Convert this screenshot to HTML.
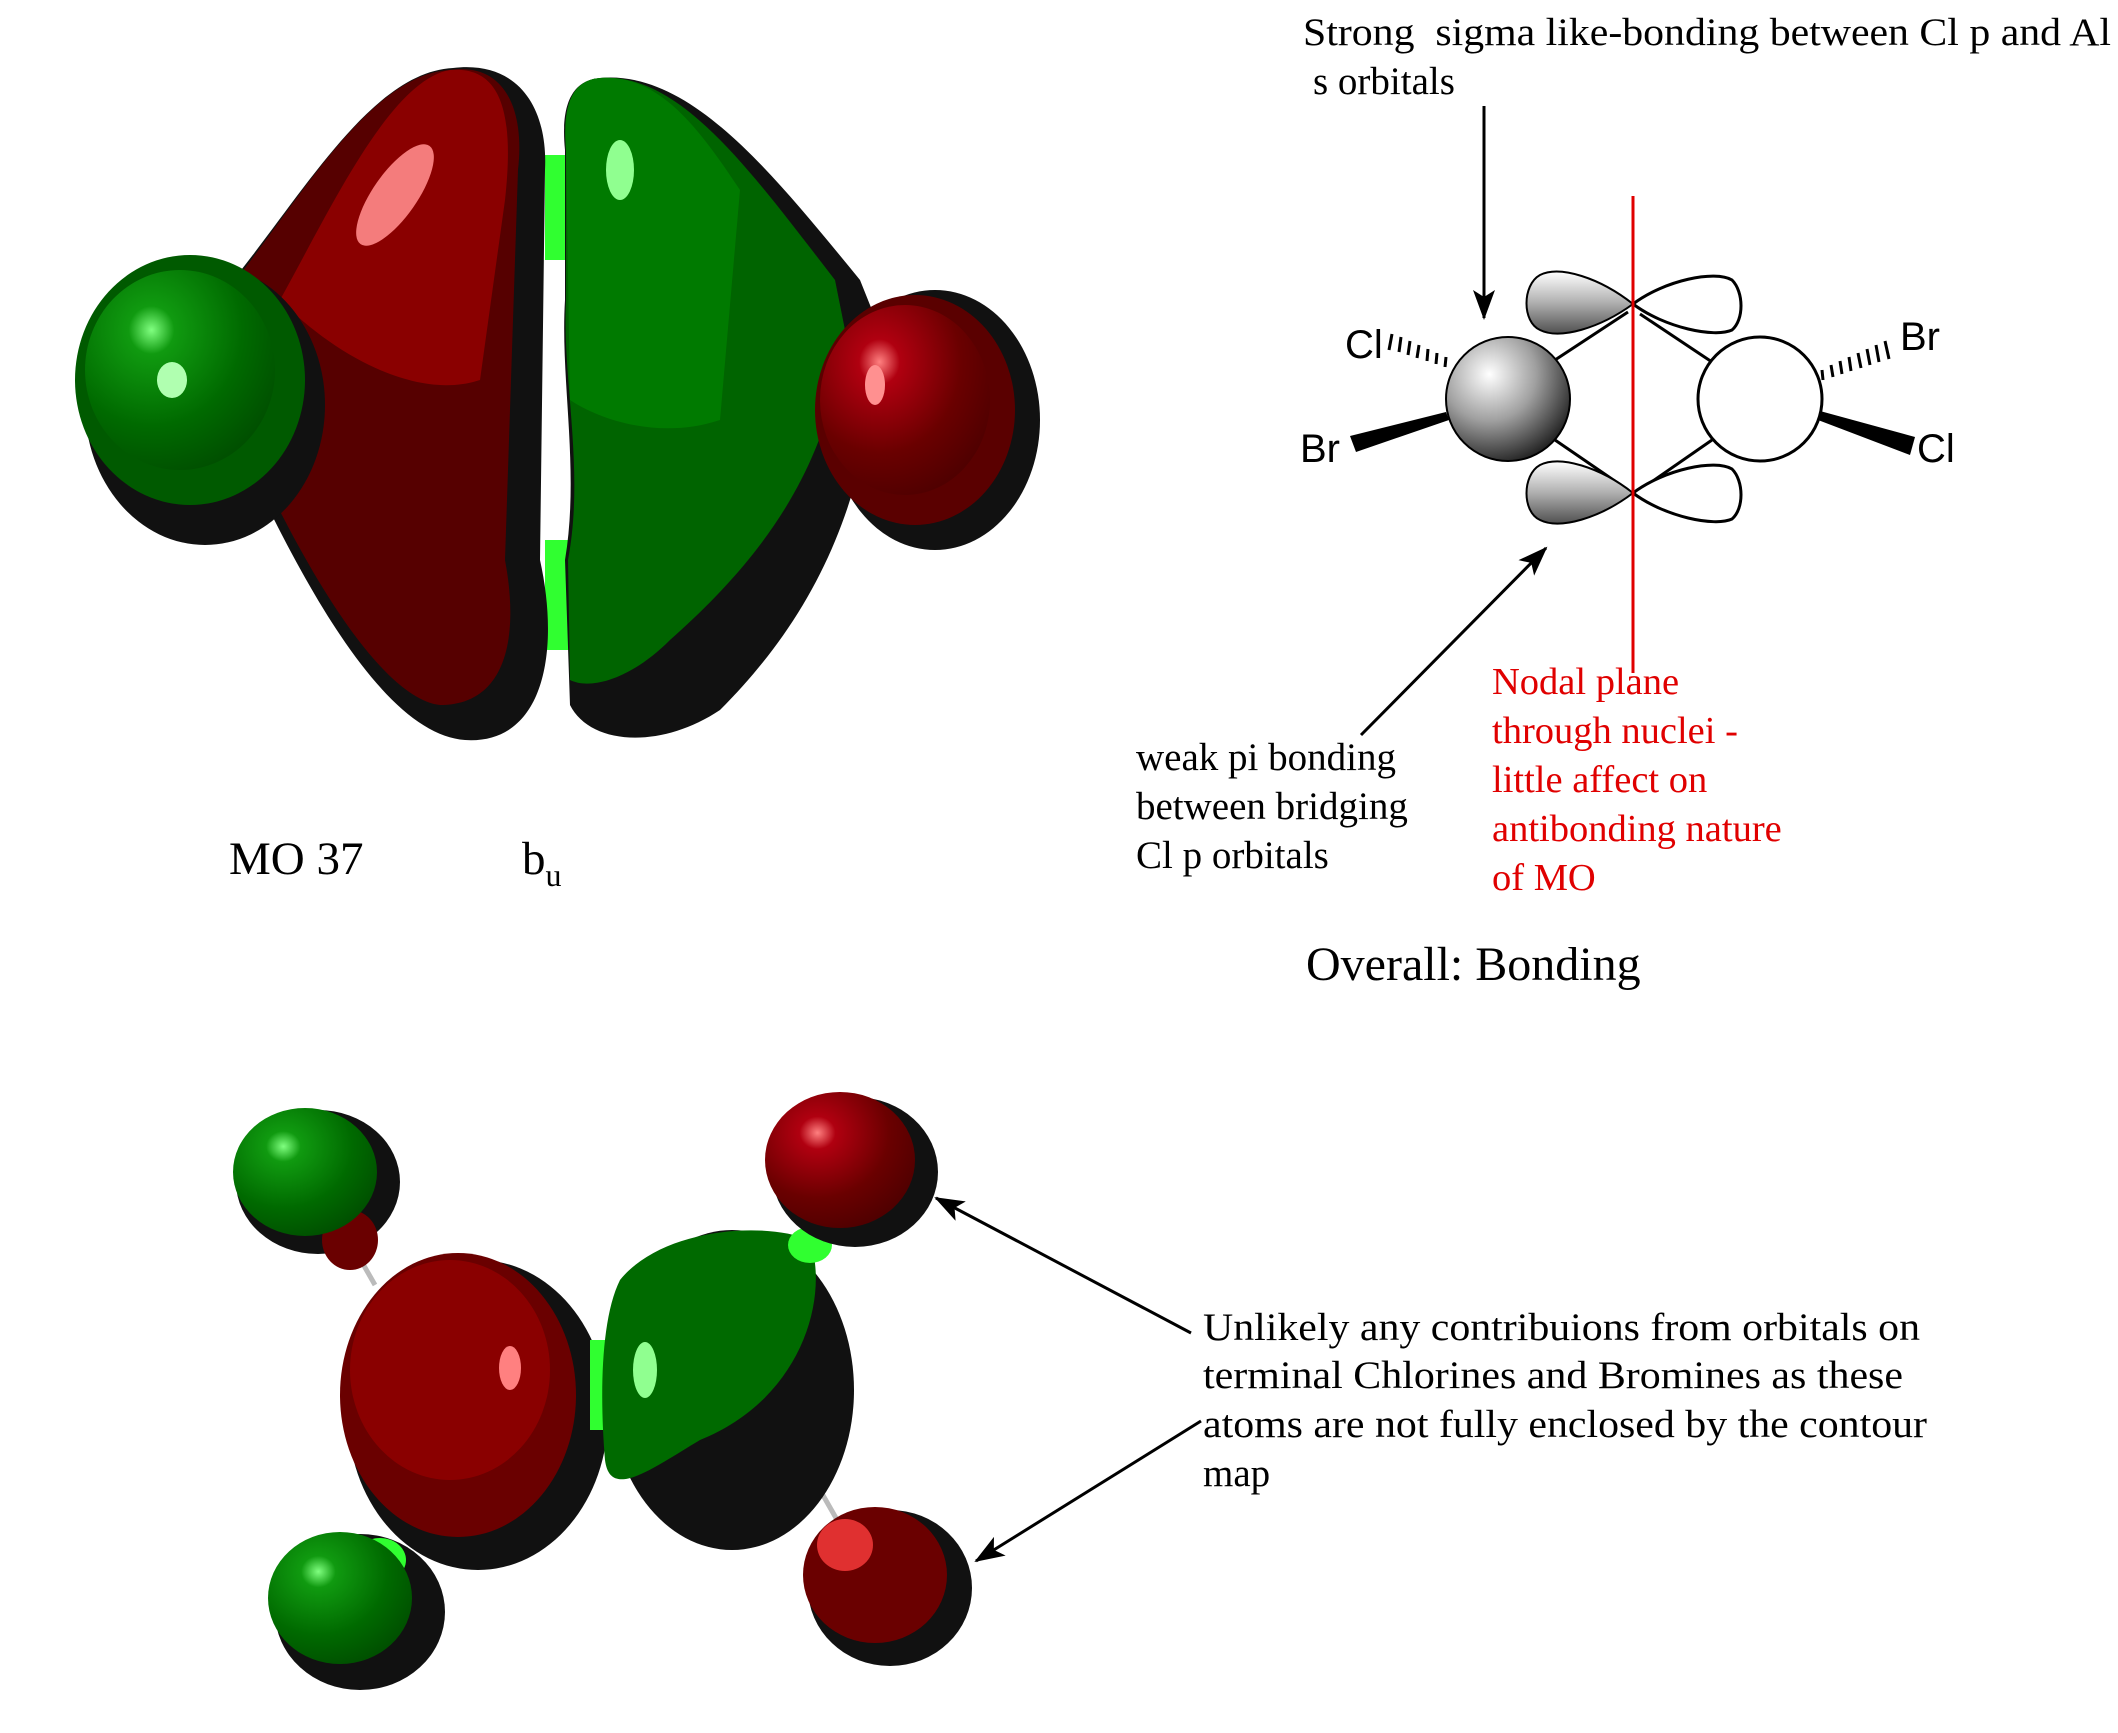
<!DOCTYPE html>
<html><head><meta charset="utf-8">
<style>
html,body{margin:0;padding:0;background:#fff;}
svg{display:block;}
.t{font-family:"Liberation Serif",serif;font-size:39px;fill:#000;}
.r{font-family:"Liberation Serif",serif;font-size:38.5px;fill:#e00000;}
.s{font-family:"Liberation Sans",sans-serif;font-size:40px;fill:#000;}
</style></head>
<body>
<svg width="2118" height="1733" viewBox="0 0 2118 1733" xmlns="http://www.w3.org/2000/svg">
<defs>
<radialGradient id="rg" cx="0.35" cy="0.3" r="0.8">
<stop offset="0" stop-color="#ff8080"/><stop offset="0.15" stop-color="#b00010"/><stop offset="0.6" stop-color="#6a0000"/><stop offset="1" stop-color="#4a0000"/></radialGradient>
<radialGradient id="gg" cx="0.35" cy="0.3" r="0.8">
<stop offset="0" stop-color="#80ff80"/><stop offset="0.15" stop-color="#109a10"/><stop offset="0.6" stop-color="#006a00"/><stop offset="1" stop-color="#004a00"/></radialGradient>
<radialGradient id="sph" cx="0.35" cy="0.3" r="0.75">
<stop offset="0" stop-color="#ffffff"/><stop offset="0.5" stop-color="#a0a0a0"/><stop offset="1" stop-color="#202020"/></radialGradient>
<linearGradient id="lobe" x1="0" y1="0" x2="0" y2="1">
<stop offset="0" stop-color="#ffffff"/><stop offset="0.5" stop-color="#b0b0b0"/><stop offset="1" stop-color="#505050"/></linearGradient>
<marker id="ah" markerWidth="30" markerHeight="22" refX="28" refY="11" orient="auto" markerUnits="userSpaceOnUse" viewBox="0 0 30 22">
<path d="M0,0 L30,11 L0,22 L7,11 Z" fill="#000"/></marker>
</defs>

<!-- ===== Top MO ===== -->
<rect x="545" y="155" width="25" height="105" fill="#30ff30"/>
<rect x="545" y="540" width="25" height="110" fill="#30ff30"/>
<path d="M453,68 C520,60 548,110 545,170 L540,560 C560,650 545,745 465,740 C400,735 330,640 250,470 L225,290 C300,200 370,72 453,68 Z" fill="#111"/>
<path d="M450,70 C505,62 525,110 518,170 L505,560 C520,640 505,705 440,705 C395,700 330,620 255,460 L228,290 C300,200 370,74 450,70 Z" fill="#560000"/>
<path d="M450,70 C500,66 515,110 505,200 L480,380 C420,400 340,360 280,300 C330,210 390,80 450,70 Z" fill="#8a0000"/>
<ellipse cx="395" cy="195" rx="22" ry="60" transform="rotate(35 395 195)" fill="#ff8a8a" opacity="0.9"/>
<path d="M600,78 C690,70 770,170 860,280 L880,330 C870,480 830,600 720,710 C660,750 590,745 570,705 L565,560 C580,470 560,380 565,300 L565,150 C560,100 575,80 600,78 Z" fill="#111"/>
<path d="M600,78 C680,72 750,170 835,280 L845,330 C830,470 760,560 670,640 C630,680 590,690 570,680 L568,560 C585,470 562,380 566,300 L566,150 C562,100 575,80 600,78 Z" fill="#006400"/>
<path d="M600,78 C660,74 700,130 740,190 L720,420 C660,440 600,420 570,400 L566,150 C562,100 575,80 600,78 Z" fill="#007a00"/>
<ellipse cx="620" cy="170" rx="14" ry="30" fill="#90ff90"/>
<ellipse cx="205" cy="405" rx="120" ry="140" fill="#111"/>
<ellipse cx="190" cy="380" rx="115" ry="125" fill="#005a00"/>
<ellipse cx="180" cy="370" rx="95" ry="100" fill="url(#gg)"/>
<ellipse cx="172" cy="380" rx="15" ry="18" fill="#b0ffb0"/>
<ellipse cx="935" cy="420" rx="105" ry="130" fill="#111"/>
<ellipse cx="915" cy="410" rx="100" ry="115" fill="#5a0000"/>
<ellipse cx="905" cy="400" rx="85" ry="95" fill="url(#rg)"/>
<ellipse cx="875" cy="385" rx="10" ry="20" fill="#ff9090"/>

<text class="t" x="229" y="874" style="font-size:47px">MO 37</text>
<text class="t" x="522" y="874" style="font-size:47px">b<tspan dy="12" style="font-size:32px">u</tspan></text>

<!-- ===== Top right scheme ===== -->
<text class="t" x="1303" y="45" textLength="808" lengthAdjust="spacingAndGlyphs">Strong&#160; sigma like-bonding between Cl p and Al</text>
<text class="t" x="1313" y="94">s orbitals</text>
<line x1="1484" y1="106" x2="1484" y2="318" stroke="#000" stroke-width="3" marker-end="url(#ah)"/>

<line x1="1555" y1="360" x2="1628" y2="312" stroke="#000" stroke-width="3"/>
<line x1="1555" y1="440" x2="1628" y2="490" stroke="#000" stroke-width="3"/>
<line x1="1640" y1="314" x2="1712" y2="362" stroke="#000" stroke-width="3"/>
<line x1="1640" y1="490" x2="1712" y2="440" stroke="#000" stroke-width="3"/>
<path d="M1633,304 C1600,278 1560,265 1540,275 C1522,285 1522,322 1540,330 C1560,340 1600,328 1633,304 Z" fill="url(#lobe)" stroke="#000" stroke-width="2"/>
<path d="M1633,304 C1665,280 1715,270 1732,280 C1744,292 1744,320 1732,330 C1715,338 1665,328 1633,304 Z" fill="#fff" stroke="#000" stroke-width="3"/>
<path d="M1633,493 C1600,467 1560,455 1540,465 C1522,475 1522,512 1540,520 C1560,530 1600,518 1633,493 Z" fill="url(#lobe)" stroke="#000" stroke-width="2"/>
<path d="M1633,493 C1665,469 1715,459 1732,469 C1744,481 1744,509 1732,519 C1715,527 1665,517 1633,493 Z" fill="#fff" stroke="#000" stroke-width="3"/>
<circle cx="1508" cy="399" r="62" fill="url(#sph)" stroke="#000" stroke-width="2"/>
<circle cx="1760" cy="399" r="62" fill="#fff" stroke="#000" stroke-width="3"/>
<line x1="1633" y1="196" x2="1633" y2="673" stroke="#e00000" stroke-width="3"/>

<g stroke="#000" stroke-width="3">
<line x1="1392" y1="334" x2="1389" y2="350"/>
<line x1="1401" y1="337" x2="1399" y2="352"/>
<line x1="1410" y1="341" x2="1408" y2="355"/>
<line x1="1419" y1="345" x2="1417" y2="358"/>
<line x1="1428" y1="349" x2="1427" y2="361"/>
<line x1="1437" y1="353" x2="1436" y2="364"/>
<line x1="1446" y1="357" x2="1445" y2="367"/>
</g>
<path d="M1446,412 L1449,420 L1356,452 L1350,436 Z" fill="#000"/>
<text class="s" x="1345" y="358">Cl</text>
<text class="s" x="1300" y="462">Br</text>
<g stroke="#000" stroke-width="3">
<line x1="1822" y1="370" x2="1823" y2="380"/>
<line x1="1831" y1="365" x2="1833" y2="377"/>
<line x1="1840" y1="361" x2="1842" y2="374"/>
<line x1="1849" y1="357" x2="1851" y2="371"/>
<line x1="1858" y1="353" x2="1861" y2="368"/>
<line x1="1867" y1="349" x2="1870" y2="365"/>
<line x1="1876" y1="345" x2="1879" y2="362"/>
<line x1="1885" y1="341" x2="1889" y2="359"/>
</g>
<path d="M1820,411 L1818,420 L1910,455 L1915,437 Z" fill="#000"/>
<text class="s" x="1900" y="350">Br</text>
<text class="s" x="1917" y="462">Cl</text>

<line x1="1361" y1="735" x2="1546" y2="548" stroke="#000" stroke-width="3" marker-end="url(#ah)"/>
<text class="t" x="1136" y="770">weak pi bonding</text>
<text class="t" x="1136" y="819">between bridging</text>
<text class="t" x="1136" y="868">Cl p orbitals</text>

<text class="r" x="1492" y="694">Nodal plane</text>
<text class="r" x="1492" y="743">through nuclei -</text>
<text class="r" x="1492" y="792">little affect on</text>
<text class="r" x="1492" y="841">antibonding nature</text>
<text class="r" x="1492" y="890">of MO</text>

<text class="t" x="1306" y="980" style="font-size:48px">Overall: Bonding</text>

<!-- ===== Bottom MO ===== -->
<line x1="355" y1="1250" x2="375" y2="1285" stroke="#bbb" stroke-width="5"/>
<line x1="820" y1="1490" x2="840" y2="1525" stroke="#bbb" stroke-width="5"/>
<ellipse cx="318" cy="1182" rx="82" ry="72" fill="#111"/>
<ellipse cx="350" cy="1240" rx="28" ry="30" fill="#6a0000"/>
<ellipse cx="305" cy="1172" rx="72" ry="64" fill="url(#gg)"/>
<ellipse cx="478" cy="1415" rx="130" ry="155" fill="#111"/>
<ellipse cx="458" cy="1395" rx="118" ry="142" fill="#6a0000"/>
<ellipse cx="450" cy="1370" rx="100" ry="110" fill="#8a0000"/>
<ellipse cx="510" cy="1368" rx="11" ry="22" fill="#ff8080"/>
<rect x="590" y="1340" width="20" height="90" fill="#30ff30"/>
<ellipse cx="732" cy="1390" rx="122" ry="160" fill="#111"/>
<path d="M620,1280 C660,1230 760,1220 810,1240 C830,1300 800,1400 700,1440 C650,1470 610,1500 605,1460 C600,1400 600,1320 620,1280 Z" fill="#006a00"/>
<ellipse cx="645" cy="1370" rx="12" ry="28" fill="#90ff90"/>
<ellipse cx="810" cy="1245" rx="22" ry="18" fill="#30ff30"/>
<ellipse cx="855" cy="1172" rx="83" ry="75" fill="#111"/>
<ellipse cx="840" cy="1160" rx="75" ry="68" fill="url(#rg)"/>
<ellipse cx="360" cy="1612" rx="85" ry="78" fill="#111"/>
<ellipse cx="380" cy="1560" rx="26" ry="22" fill="#30ff30"/>
<ellipse cx="340" cy="1598" rx="72" ry="66" fill="url(#gg)"/>
<ellipse cx="890" cy="1588" rx="82" ry="78" fill="#111"/>
<ellipse cx="875" cy="1575" rx="72" ry="68" fill="#6a0000"/>
<ellipse cx="845" cy="1545" rx="28" ry="26" fill="#e03030"/>

<line x1="1191" y1="1333" x2="936" y2="1198" stroke="#000" stroke-width="3" marker-end="url(#ah)"/>
<line x1="1201" y1="1421" x2="976" y2="1561" stroke="#000" stroke-width="3" marker-end="url(#ah)"/>
<text class="t" x="1203" y="1340" textLength="717" lengthAdjust="spacingAndGlyphs">Unlikely any contribuions from orbitals on</text>
<text class="t" x="1203" y="1388" textLength="700" lengthAdjust="spacingAndGlyphs">terminal Chlorines and Bromines as these</text>
<text class="t" x="1203" y="1437" textLength="724" lengthAdjust="spacingAndGlyphs">atoms are not fully enclosed by the contour</text>
<text class="t" x="1203" y="1486">map</text>
</svg>
</body></html>
